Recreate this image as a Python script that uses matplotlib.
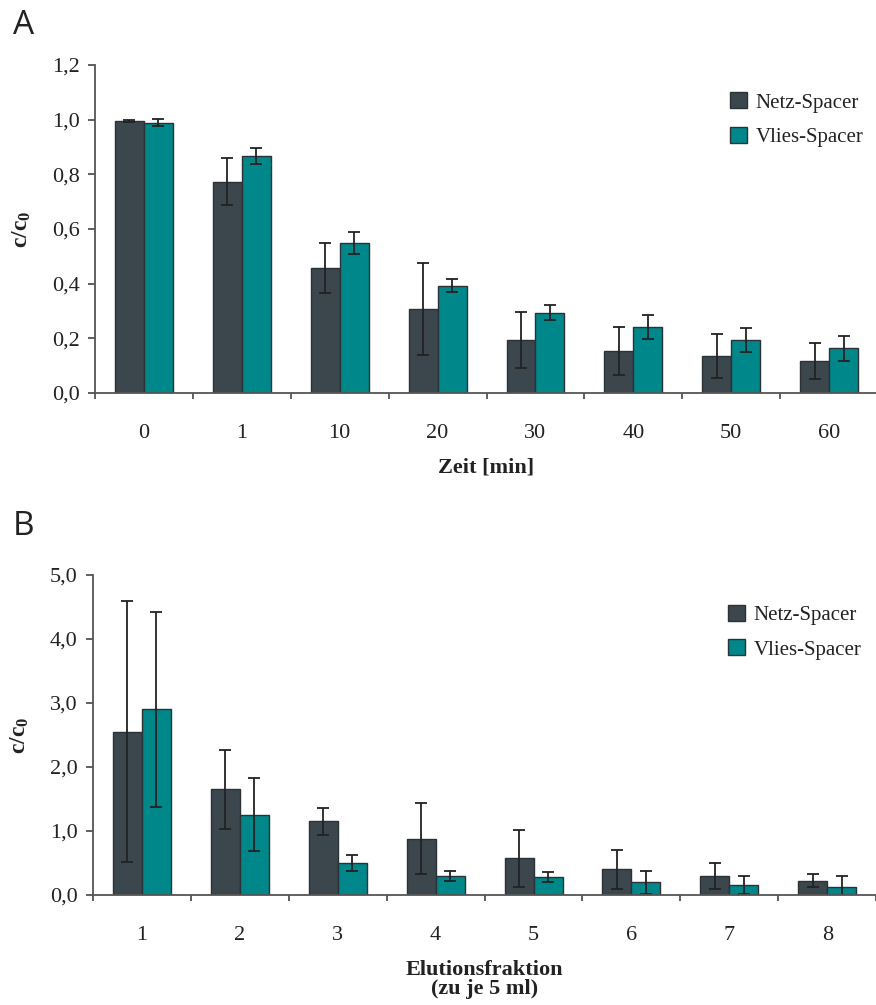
import numpy as np
import matplotlib
matplotlib.use("Agg")
import matplotlib.pyplot as plt
from matplotlib.ticker import FixedLocator, FuncFormatter

plt.rcParams['font.family'] = ['Liberation Serif', 'DejaVu Serif']
plt.rcParams['mathtext.fontset'] = 'custom'
plt.rcParams['mathtext.rm'] = 'Liberation Serif'
plt.rcParams['mathtext.bf'] = 'Liberation Serif:bold'

# Daten Teil A
zeit_labels = ['0', '1', '10', '20', '30', '40', '50', '60']
netz_a = [0.995, 0.773, 0.457, 0.306, 0.194, 0.154, 0.135, 0.117]
netz_a_err = [0.003, 0.087, 0.093, 0.168, 0.102, 0.088, 0.079, 0.065]
vlies_a = [0.989, 0.866, 0.550, 0.393, 0.293, 0.240, 0.193, 0.163]
vlies_a_err = [0.012, 0.030, 0.040, 0.023, 0.027, 0.044, 0.045, 0.046]

# Daten Teil B
fraktion_labels = ['1', '2', '3', '4', '5', '6', '7', '8']
netz_b = [2.55, 1.65, 1.15, 0.88, 0.57, 0.40, 0.30, 0.22]
netz_b_err = [2.04, 0.62, 0.21, 0.56, 0.44, 0.30, 0.20, 0.10]
vlies_b = [2.90, 1.25, 0.50, 0.30, 0.28, 0.20, 0.15, 0.125]
vlies_b_err = [1.52, 0.57, 0.13, 0.08, 0.08, 0.18, 0.14, 0.17]

dunkel = '#3c474d'
petrol = '#00878a'
rand = '#2a3236'

fig = plt.figure(figsize=(8.76, 10.05), dpi=100)
ax1 = fig.add_axes([0.1084, 0.609, 0.894, 0.3264])
ax2 = fig.add_axes([0.1062, 0.1095, 0.894, 0.3184])


def balken(ax, labels, netz, netz_err, vlies, vlies_err, ymax, ystep, leg_y):
    x = np.arange(len(labels))
    w = 0.296
    fehler = dict(ecolor='#222222', elinewidth=1.3, capsize=4, capthick=1.3)
    ax.bar(x - w / 2, netz, w, yerr=netz_err, color=dunkel, edgecolor=rand,
           linewidth=1.0, error_kw=fehler, label='Netz-Spacer', zorder=2)
    ax.bar(x + w / 2, vlies, w, yerr=vlies_err, color=petrol, edgecolor=rand,
           linewidth=1.0, error_kw=fehler, label='Vlies-Spacer', zorder=2)
    ax.set_xlim(-0.5, len(labels) - 0.5)
    ax.set_ylim(0, ymax)
    ax.set_yticks(np.arange(0, ymax + ystep / 2, ystep))
    ax.yaxis.set_major_formatter(FuncFormatter(lambda v, p: f'{v:.1f}'.replace('.', ',')))
    ax.xaxis.set_major_locator(FixedLocator(np.arange(-0.5, len(labels), 1.0)))
    ax.xaxis.set_major_formatter(FuncFormatter(lambda v, p: ''))
    ax.xaxis.set_minor_locator(FixedLocator(x))
    ax.set_xticklabels(labels, minor=True)
    ax.tick_params(axis='x', which='minor', length=0, pad=22, labelsize=16, labelcolor='#222222')
    ax.tick_params(axis='x', which='major', length=4.5, width=1.2, color='#444444')
    ax.tick_params(axis='y', length=5, width=1.2, color='#444444', labelsize=16,
                   labelcolor='#222222', pad=6)
    for s in ['top', 'right']:
        ax.spines[s].set_visible(False)
    for s in ['left', 'bottom']:
        ax.spines[s].set_color('#555555')
        ax.spines[s].set_linewidth(1.3)
    ax.set_ylabel(r'$\mathbf{c/c_0}$', fontsize=17, color='#222222')
    ax.yaxis.set_label_coords(-0.079, 0.5)
    ax.legend(loc='upper left', bbox_to_anchor=(0.798, leg_y), frameon=False,
              handlelength=0.8, handleheight=0.8, handletextpad=0.4,
              labelspacing=0.7, fontsize=15, borderpad=0, labelcolor='#222222')


balken(ax1, zeit_labels, netz_a, netz_a_err, vlies_a, vlies_a_err, 1.2, 0.2, 0.948)
balken(ax2, fraktion_labels, netz_b, netz_b_err, vlies_b, vlies_b_err, 5.0, 1.0, 0.94)

ax1.set_xlabel('Zeit [min]', fontsize=16, fontweight='bold', color='#222222')
ax1.xaxis.set_label_coords(0.5, -0.198)
ax2.set_xlabel('Elutionsfraktion\n(zu je 5 ml)', fontsize=16, fontweight='bold',
               color='#222222', linespacing=0.95)
ax2.xaxis.set_label_coords(0.5, -0.203)

fig.text(0.015, 0.975, 'A', fontsize=24, family='Open Sans', color='#222222', va='center')
fig.text(0.015, 0.476, 'B', fontsize=24, family='Open Sans', color='#222222', va='center')

fig.savefig('out.png', dpi=100)
